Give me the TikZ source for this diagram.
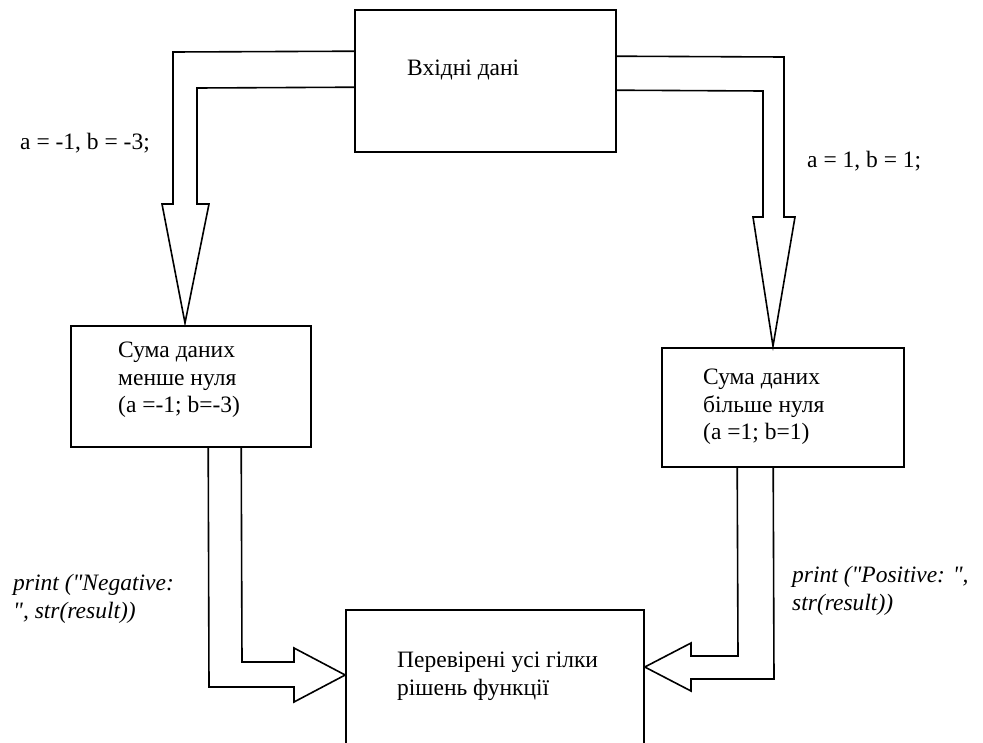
\documentclass[tikz,border=0pt]{standalone}
\usepackage{fontspec}
\setmainfont{Liberation Serif}[Ligatures=TeXOff]
\usetikzlibrary{calc}
\begin{document}
\begin{tikzpicture}[x=1pt, y=-1pt,
  box/.style={draw, line width=1.6pt, rectangle, inner sep=0pt},
  blockarrow/.style={draw, line width=1.6pt, line join=miter},
  txt/.style={inner sep=0pt, align=left, font=\fontsize{23.5}{27.5}\selectfont},
  code/.style={txt, font=\fontsize{23.5}{27.5}\selectfont\itshape}]
\useasboundingbox (0,0) rectangle (983,742);

% process boxes
\node[box, minimum width=261pt, minimum height=142pt] (input) at (485.5,81) {};
\node[box, minimum width=240pt, minimum height=121pt] (less) at (191,386.5) {};
\node[box, minimum width=242pt, minimum height=119pt] (more) at (783,407.5) {};
\node[box, minimum width=298pt, minimum height=170pt] (done) at (495,695) {};

% box texts
\node[txt, anchor=base west] (tin) at (407,75) {Вхідні дані};
\node[txt, anchor=north west] (tless) at (118,342) {Сума даних\\менше нуля\\(a =-1; b=-3)};
\node[txt, anchor=north west] (tmore) at (703,369) {Сума даних\\більше нуля\\(a =1; b=1)};
\node[txt, anchor=north west] (tdone) at (397,652) {Перевірені усі гілки\\рішень функції};

% labels beside the arrows
\node[txt, anchor=base west] (lneg) at (20,149) {a = -1, b = -3;};
\node[txt, anchor=base west] (lpos) at (807,167) {a = 1, b = 1;};
\node[code, anchor=north west] (pneg) at (13,574) {print ("Negative:\\", str(result))};
\node[code, anchor=north west] (ppos) at (792,566) {print ("Positive: ",\\str(result))};

% block arrow: input -> negative branch
\draw[blockarrow] ($(input.north west)+(0,42)$) -- (173,52) -- (173,204) -- (162,204)
  -- (185,323) -- (209,204) -- (197,204) -- (197,88) -- ($(input.north west)+(0,78)$);

% block arrow: input -> positive branch
\draw[blockarrow] ($(input.north east)+(0,47)$) -- (784,57) -- (784,217) -- (795,217)
  -- (773,346) -- (753,217) -- (763,217) -- (763,91) -- ($(input.north east)+(0,81)$);

% block arrow: negative branch -> result
\draw[blockarrow] ($(less.south west)+(138,0)$) -- (209,687) -- (294,687) -- (294,702)
  -- (done.west |- 0,675) -- (294,648) -- (294,662) -- (242,662) -- ($(less.south west)+(171,0)$);

% block arrow: positive branch -> result
\draw[blockarrow] ($(more.south west)+(112,0)$) -- (774,679) -- (691,679) -- (691,691)
  -- (done.east |- 0,667) -- (691,643) -- (691,656) -- (738,656) -- ($(more.south west)+(76,0)$);
\end{tikzpicture}
\end{document}
